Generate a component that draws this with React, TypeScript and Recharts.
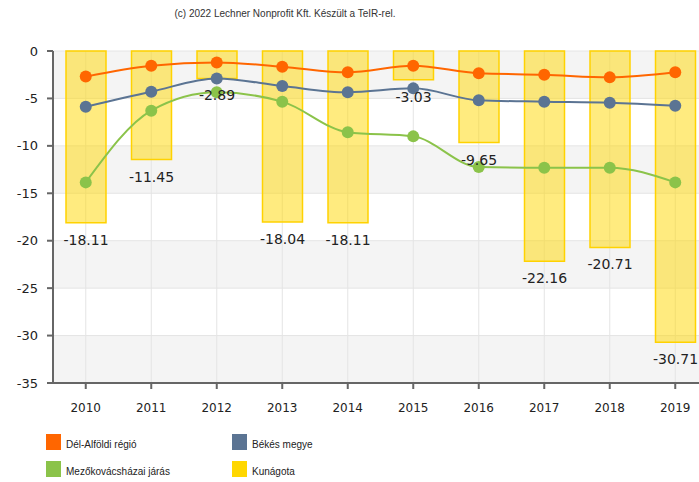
import { ComposedChart, Bar, Line, XAxis, YAxis, CartesianGrid, LabelList } from 'recharts';

const years = ['2010', '2011', '2012', '2013', '2014', '2015', '2016', '2017', '2018', '2019'];
const delAlfoldi = [-2.7, -1.55, -1.2, -1.65, -2.25, -1.55, -2.35, -2.5, -2.78, -2.25];
const bekes = [-5.87, -4.29, -2.9, -3.69, -4.36, -3.94, -5.2, -5.34, -5.45, -5.76];
const mezokovacshazai = [-13.85, -6.29, -4.36, -5.34, -8.57, -9.0, -12.23, -12.3, -12.3, -13.85];
const kunagota = [-18.11, -11.45, -2.89, -18.04, -18.11, -3.03, -9.65, -22.16, -20.71, -30.71];
const yTicks = [0, -5, -10, -15, -20, -25, -30, -35];

const data = years.map((year, i) => ({
    year,
    delAlfoldi: delAlfoldi[i],
    bekes: bekes[i],
    mezo: mezokovacshazai[i],
    kunagota: kunagota[i],
}));

const legendItems = [
    { name: 'Dél-Alföldi régió', color: '#FF6600', left: 46, top: 434 },
    { name: 'Békés megye', color: '#5B7493', left: 232, top: 434 },
    { name: 'Mezőkovácsházai járás', color: '#8BC34A', left: 46, top: 461 },
    { name: 'Kunágota', color: '#FFD700', left: 232, top: 461 },
];

const BarValue = (props: any) => {
    const { x, y, width, height, value } = props;
    const bottom = Math.max(y, y + height);
    return (
        <text
            x={x + width / 2}
            y={bottom + 22}
            textAnchor="middle"
            fontSize={14}
            fontFamily="DejaVu Sans"
            fill="#222"
        >
            {value}
        </text>
    );
};

export default function App() {
    return (
        <div
            style={{
                position: 'fixed',
                left: 0,
                top: 0,
                width: 699,
                height: 482,
                overflow: 'hidden',
                background: '#fff',
                fontFamily: 'Liberation Sans',
            }}
        >
            <div
                style={{
                    position: 'absolute',
                    left: 0,
                    width: 570,
                    top: 8,
                    textAlign: 'center',
                    fontSize: 10,
                    color: '#333',
                }}
            >
                (c) 2022 Lechner Nonprofit Kft. Készült a TeIR-rel.
            </div>
            <div style={{ position: 'absolute', left: 0, top: 0 }}>
                <ComposedChart
                    width={712}
                    height={425}
                    data={data}
                    margin={{ top: 51, right: 4, left: 0, bottom: 0 }}
                >
                    <CartesianGrid
                        stroke="#E4E4E4"
                        horizontalFill={['#F4F4F4', '#FFFFFF']}
                    />
                    <XAxis
                        dataKey="year"
                        height={42}
                        axisLine={{ stroke: '#666', strokeWidth: 2 }}
                        tickLine={{ stroke: '#666', strokeWidth: 2 }}
                        tickSize={6}
                        tickMargin={14}
                        tick={{ fill: '#222', fontSize: 12, fontFamily: 'DejaVu Sans' }}
                        interval={0}
                    />
                    <YAxis
                        width={53}
                        domain={[-35, 0]}
                        ticks={yTicks}
                        interval={0}
                        axisLine={{ stroke: '#666', strokeWidth: 2 }}
                        tickLine={{ stroke: '#666', strokeWidth: 2 }}
                        tickSize={6}
                        tickMargin={9}
                        tick={{ fill: '#222', fontSize: 13, fontFamily: 'DejaVu Sans' }}
                    />
                    <Bar
                        dataKey="kunagota"
                        barSize={40}
                        fill="#FFD700"
                        fillOpacity={0.5}
                        stroke="#FFD200"
                        strokeWidth={1.5}
                        isAnimationActive={false}
                    >
                        <LabelList dataKey="kunagota" content={BarValue} />
                    </Bar>
                    <Line
                        type="monotone"
                        dataKey="mezo"
                        stroke="#8BC34A"
                        strokeWidth={2}
                        dot={{ r: 6, fill: '#8BC34A', stroke: 'none' }}
                        activeDot={false}
                        isAnimationActive={false}
                    />
                    <Line
                        type="monotone"
                        dataKey="bekes"
                        stroke="#5B7493"
                        strokeWidth={2}
                        dot={{ r: 6, fill: '#5B7493', stroke: 'none' }}
                        activeDot={false}
                        isAnimationActive={false}
                    />
                    <Line
                        type="monotone"
                        dataKey="delAlfoldi"
                        stroke="#FF6600"
                        strokeWidth={2}
                        dot={{ r: 6, fill: '#FF6600', stroke: 'none' }}
                        activeDot={false}
                        isAnimationActive={false}
                    />
                </ComposedChart>
            </div>
            {legendItems.map((item) => (
                <div key={item.name}>
                    <div
                        style={{
                            position: 'absolute',
                            left: item.left,
                            top: item.top,
                            width: 15,
                            height: 16,
                            background: item.color,
                        }}
                    />
                    <div
                        style={{
                            position: 'absolute',
                            left: item.left + 20,
                            top: item.top + 5,
                            fontSize: 10,
                            color: '#222',
                            whiteSpace: 'nowrap',
                        }}
                    >
                        {item.name}
                    </div>
                </div>
            ))}
        </div>
    );
}
